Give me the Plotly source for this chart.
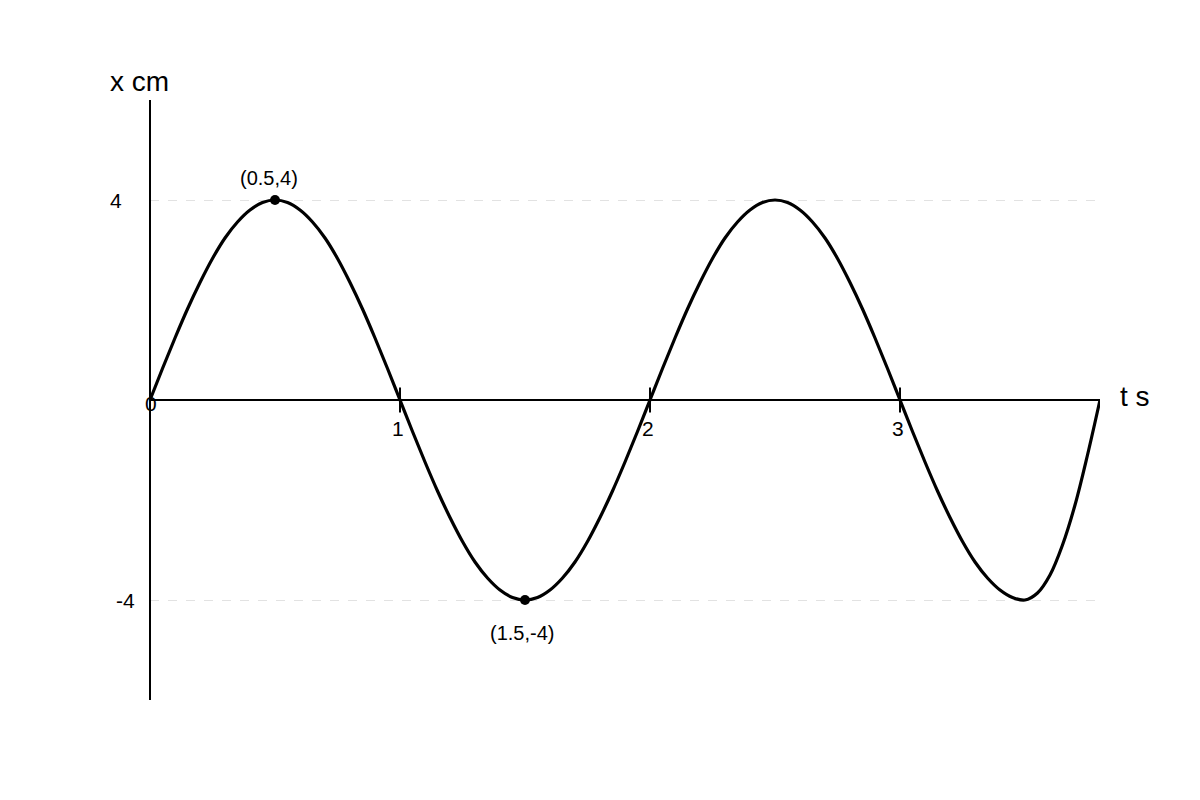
import plotly.graph_objects as go

# displacement x (cm) against time t (s), every 0.05 s
t = [0.0, 0.05, 0.1, 0.15, 0.2, 0.25, 0.3, 0.35, 0.4, 0.45,
     0.5, 0.55, 0.6, 0.65, 0.7, 0.75, 0.8, 0.85, 0.9, 0.95,
     1.0, 1.05, 1.1, 1.15, 1.2, 1.25, 1.3, 1.35, 1.4, 1.45,
     1.5, 1.55, 1.6, 1.65, 1.7, 1.75, 1.8, 1.85, 1.9, 1.95,
     2.0, 2.05, 2.1, 2.15, 2.2, 2.25, 2.3, 2.35, 2.4, 2.45,
     2.5, 2.55, 2.6, 2.65, 2.7, 2.75, 2.8, 2.85, 2.9, 2.95,
     3.0, 3.05, 3.1, 3.15, 3.2, 3.25, 3.3, 3.35, 3.4, 3.45,
     3.5, 3.55, 3.6, 3.65, 3.7, 3.75, 3.8]
x = [0.0, 0.63, 1.24, 1.82, 2.35, 2.83, 3.24, 3.56, 3.8, 3.95,
     4.0, 3.95, 3.8, 3.56, 3.24, 2.83, 2.35, 1.82, 1.24, 0.63,
     0.0, -0.63, -1.24, -1.82, -2.35, -2.83, -3.24, -3.56, -3.8, -3.95,
     -4.0, -3.95, -3.8, -3.56, -3.24, -2.83, -2.35, -1.82, -1.24, -0.63,
     0.0, 0.63, 1.24, 1.82, 2.35, 2.83, 3.24, 3.56, 3.8, 3.95,
     4.0, 3.95, 3.8, 3.56, 3.24, 2.83, 2.35, 1.82, 1.24, 0.63,
     0.0, -0.63, -1.24, -1.82, -2.35, -2.83, -3.24, -3.56, -3.8, -3.95,
     -4.0, -3.86, -3.5, -2.9, -2.1, -1.1, 0.0]

# marked points
pt_t = [0.5, 1.5]
pt_x = [4, -4]
pt_labels = ["(0.5,4)", "(1.5,-4)"]

xticks = [1, 2, 3]
yticks = [4, -4]

FONT = "Liberation Sans, Arial, sans-serif"

fig = go.Figure()
fig.add_trace(go.Scatter(x=t, y=x, mode="lines",
                         line=dict(color="black", width=3.2, shape="spline"),
                         hoverinfo="skip"))
# tick marks on the t axis
fig.add_trace(go.Scatter(x=xticks, y=[0] * len(xticks), mode="markers",
                         marker=dict(symbol="line-ns", size=18,
                                     line=dict(color="black", width=2)),
                         hoverinfo="skip"))
fig.add_trace(go.Scatter(x=pt_t, y=pt_x, mode="markers",
                         marker=dict(color="black", size=10)))

annotations = []
for v in xticks:
    annotations.append(dict(x=v, y=0, text=str(v), showarrow=False,
                            yshift=-28, xshift=-2, font=dict(size=21)))
annotations.append(dict(x=0, y=0, text="0", showarrow=False,
                        xshift=1, yshift=-3, font=dict(size=21)))
for v, dx in zip(yticks, [-34, -25]):
    annotations.append(dict(x=0, y=v, text=str(v), showarrow=False,
                            xshift=dx, font=dict(size=21)))
for tt, xx, lab, dx, dy in zip(pt_t, pt_x, pt_labels, [-6, -3], [22, -33]):
    annotations.append(dict(x=tt, y=xx, text=lab, showarrow=False,
                            xshift=dx, yshift=dy, font=dict(size=20)))
annotations.append(dict(x=0, y=6, text="x cm", showarrow=False,
                        xshift=-11, yshift=19, font=dict(size=28)))
annotations.append(dict(x=3.8, y=0, text="t s", showarrow=False,
                        xshift=35, yshift=4, font=dict(size=28)))

# page body adds an 8px offset, so margins are trimmed to keep the
# plot area at 150..1100 x 100..700 on screen
fig.update_layout(
    width=1200, height=800,
    margin=dict(l=142, r=108, t=92, b=108),
    plot_bgcolor="white", paper_bgcolor="white",
    showlegend=False,
    font=dict(family=FONT, color="black"),
    annotations=annotations,
    xaxis=dict(range=[0, 3.8], showgrid=False, showticklabels=False,
               zeroline=True, zerolinecolor="black", zerolinewidth=2,
               fixedrange=True),
    yaxis=dict(range=[-6, 6], tickvals=yticks, showticklabels=False,
               showgrid=True, gridcolor="#e2e2e2", griddash="dash", gridwidth=1,
               zeroline=True, zerolinecolor="black", zerolinewidth=2,
               fixedrange=True),
)

fig.write_html("out.html")
